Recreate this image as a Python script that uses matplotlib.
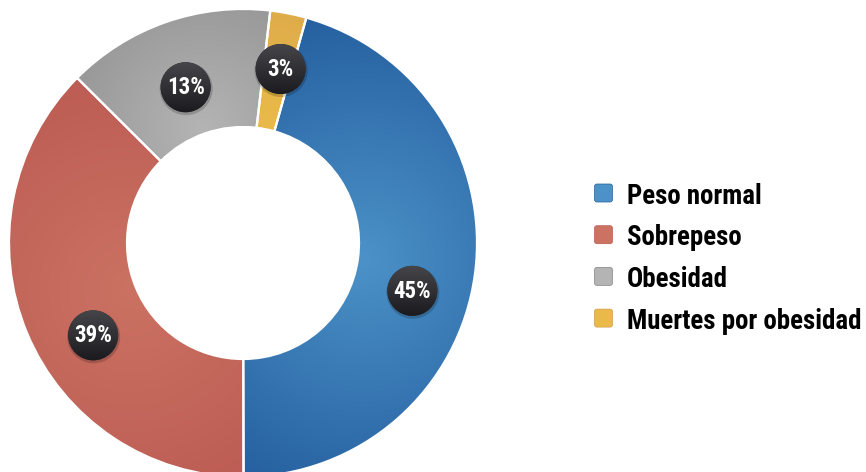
import numpy as np
import matplotlib
matplotlib.use("Agg")
import matplotlib.pyplot as plt
from matplotlib.colors import to_rgb
from matplotlib.patches import Wedge, Circle, FancyBboxPatch

# ---- data ----
categories = ["Peso normal", "Sobrepeso", "Obesidad", "Muertes por obesidad"]
values = [45.6, 37.5, 14.4, 2.5]            # slice sizes as drawn
pct_labels = ["45%", "39%", "13%", "3%"]     # printed labels

# ---- style ----
light = ["#4c92c8", "#cb7262", "#b4b4b4", "#e9ba48"]
dark = ["#2660a0", "#bb5a53", "#828282", "#d39b4e"]
label_dangle = [-8, 9, 1, -1]     # degrees shift of badges from slice middle
label_rad = [176, 176, 166, 178]  # badge distance from centre, px
FONT = ["Roboto Condensed", "Liberation Sans Narrow", "DejaVu Sans Condensed",
        "DejaVu Sans"]
STRETCH = "condensed"

W_PX, H_PX = 866, 472
fig = plt.figure(figsize=(W_PX / 100, H_PX / 100), dpi=100)
ax = fig.add_axes([0, 0, 1, 1])

cx, cy = 243, H_PX - 243
R, RW = 234, 118

wedges, _ = ax.pie(values, center=(cx, cy), radius=R, startangle=74.3,
                   counterclock=False, frame=True,
                   wedgeprops=dict(width=RW, edgecolor="none"))
ax.set_xlim(0, W_PX)
ax.set_ylim(0, H_PX)
ax.set_aspect("equal")
ax.axis("off")

# gradient fills
xs = np.linspace(0, W_PX, W_PX)
ys = np.linspace(0, H_PX, H_PX)
X, Y = np.meshgrid(xs, ys)
for i, w in enumerate(wedges):
    mid = np.deg2rad((w.theta1 + w.theta2) / 2)
    gx = cx + (R - RW) * 1.05 * np.cos(mid)
    gy = cy + (R - RW) * 1.05 * np.sin(mid)
    d = np.hypot(X - gx, Y - gy)
    t = np.clip(d / (R * 1.05), 0, 1)[..., None]
    img = np.array(to_rgb(light[i])) * (1 - t) + np.array(to_rgb(dark[i])) * t
    w.set_facecolor(light[i])
    im = ax.imshow(img, extent=(0, W_PX, 0, H_PX), origin="lower",
                   zorder=2, interpolation="bilinear")
    im.set_clip_path(w)

# white separators
for w in wedges:
    ax.add_patch(Wedge((cx, cy), R, w.theta1, w.theta2, width=RW,
                       facecolor="none", edgecolor="white", lw=1.6, zorder=3))

# percentage badges
br = 25
for i, w in enumerate(wedges):
    ang = np.deg2rad((w.theta1 + w.theta2) / 2 + label_dangle[i])
    bx = cx + label_rad[i] * np.cos(ang)
    by = cy + label_rad[i] * np.sin(ang)
    ax.add_patch(Circle((bx + 0.5, by - 1.5), br + 1.5, facecolor="black",
                        alpha=0.18, edgecolor="none", zorder=4))
    c = Circle((bx, by), br, facecolor="#2a2a2e", edgecolor="none", zorder=5)
    ax.add_patch(c)
    gy = np.clip((Y - (by - br)) / (2 * br), 0, 1)[..., None]
    bimg = np.array(to_rgb("#1b1b1f")) * (1 - gy) + np.array(to_rgb("#46464a")) * gy
    bim = ax.imshow(bimg, extent=(0, W_PX, 0, H_PX), origin="lower",
                    zorder=5.5, interpolation="bilinear")
    bim.set_clip_path(c)
    ax.text(bx, by - 0.5, pct_labels[i], color="white", fontsize=16.5,
            fontweight="bold", family=FONT, fontstretch=STRETCH,
            ha="center", va="center", zorder=6)

# legend
lx, ly0, lstep, sq = 603.5, H_PX - 193, 41.7, 18
for i, name in enumerate(categories):
    y = ly0 - i * lstep
    ax.add_patch(FancyBboxPatch((lx - sq / 2 + 2.5, y - sq / 2 + 2.5), sq - 5, sq - 5,
                                boxstyle="round,pad=2.5", facecolor=light[i],
                                edgecolor=dark[i], lw=0.5, zorder=3))
    ax.text(627, y, name, fontsize=19.4, fontweight="bold", family=FONT,
            fontstretch=STRETCH, color="black", ha="left",
            va="center_baseline")

fig.savefig("out.png", dpi=100, facecolor="white")
